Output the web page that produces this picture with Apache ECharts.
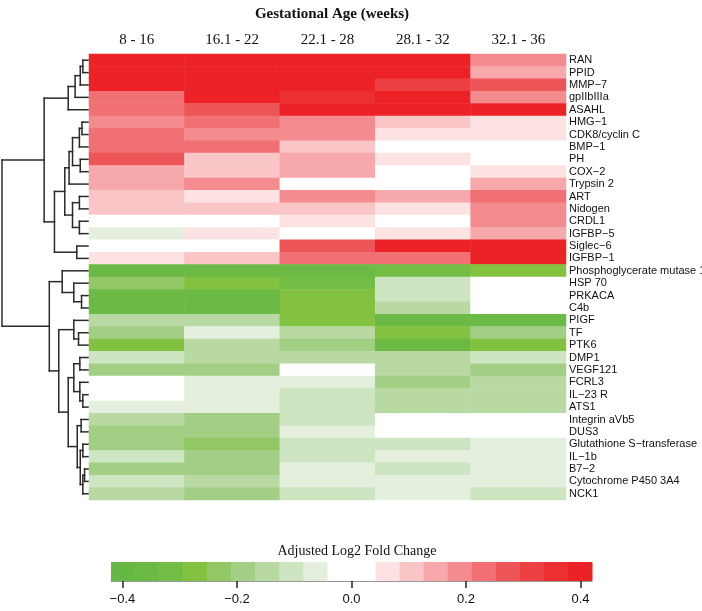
<!DOCTYPE html>
<html>
<head>
<meta charset="utf-8">
<title>Gestational Age heatmap</title>
<script src="https://cdn.jsdelivr.net/npm/echarts@6/dist/echarts.min.js"></script>
<style>
  html, body { margin: 0; padding: 0; background: #fff; }
  #chart { width: 702px; height: 611px; }
</style>
</head>
<body>
<div id="chart"></div>
<script>
const ageGroups = ['8 - 16', '16.1 - 22', '22.1 - 28', '28.1 - 32', '32.1 - 36']
const genes = [
  'RAN', 'PPID', 'MMP−7', 'gpIIbIIIa', 'ASAHL', 'HMG−1', 'CDK8/cyclin C', 'BMP−1', 'PH', 'COX−2',
  'Trypsin 2', 'ART', 'Nidogen', 'CRDL1', 'IGFBP−5', 'Siglec−6', 'IGFBP−1', 'Phosphoglycerate mutase 1',
  'HSP 70', 'PRKACA', 'C4b', 'PIGF', 'TF', 'PTK6', 'DMP1', 'VEGF121', 'FCRL3', 'IL−23 R', 'ATS1',
  'Integrin aVb5', 'DUS3', 'Glutathione S−transferase', 'IL−1b', 'B7−2', 'Cytochrome P450 3A4', 'NCK1'
]
// adjusted log2 fold change, one row per gene, one value per age group
const foldChange = [
  [0.40, 0.40, 0.40, 0.40, 0.19],
  [0.40, 0.40, 0.40, 0.40, 0.15],
  [0.40, 0.40, 0.40, 0.31, 0.27],
  [0.23, 0.40, 0.36, 0.40, 0.19],
  [0.23, 0.27, 0.40, 0.40, 0.40],
  [0.19, 0.23, 0.19, 0.10, 0.06],
  [0.23, 0.19, 0.19, 0.06, 0.06],
  [0.23, 0.23, 0.10, 0, 0],
  [0.27, 0.10, 0.15, 0.06, 0],
  [0.15, 0.10, 0.15, 0, 0.06],
  [0.15, 0.19, 0, 0, 0.15],
  [0.10, 0.06, 0.19, 0.15, 0.23],
  [0.10, 0.10, 0.10, 0.06, 0.19],
  [0, 0, 0.06, 0, 0.19],
  [-0.06, 0.06, 0, 0.06, 0.15],
  [0, 0, 0.27, 0.40, 0.40],
  [0.06, 0.10, 0.23, 0.23, 0.40],
  [-0.36, -0.36, -0.36, -0.31, -0.27],
  [-0.23, -0.27, -0.31, -0.10, 0],
  [-0.36, -0.36, -0.27, -0.10, 0],
  [-0.36, -0.36, -0.27, -0.15, 0],
  [-0.15, -0.15, -0.27, -0.36, -0.36],
  [-0.19, -0.06, -0.15, -0.27, -0.19],
  [-0.27, -0.15, -0.19, -0.36, -0.27],
  [-0.10, -0.15, -0.15, -0.15, -0.10],
  [-0.19, -0.19, 0, -0.15, -0.19],
  [0, -0.06, -0.06, -0.19, -0.15],
  [0, -0.06, -0.10, -0.15, -0.15],
  [-0.06, -0.06, -0.10, -0.15, -0.15],
  [-0.15, -0.19, -0.10, 0, 0],
  [-0.19, -0.19, -0.06, 0, 0],
  [-0.19, -0.23, -0.10, -0.10, -0.06],
  [-0.10, -0.19, -0.10, -0.06, -0.06],
  [-0.19, -0.19, -0.06, -0.10, -0.06],
  [-0.10, -0.15, -0.06, -0.06, -0.06],
  [-0.15, -0.19, -0.10, -0.06, -0.10]
]
const breaks = [-0.42, -0.378, -0.336, -0.294, -0.252, -0.21, -0.168, -0.126, -0.084, -0.042, 0,
  0.042, 0.084, 0.126, 0.168, 0.21, 0.252, 0.294, 0.336, 0.378, 0.42]
const palette = ['#66b844', '#6bba45', '#72bd43', '#83c241', '#91c764', '#a3cf85', '#b8daa2', '#cde5c0',
  '#e4f0dd', '#ffffff', '#ffffff', '#fde2e3', '#f9c5c7', '#f6a8ab', '#f38b8f', '#f07074', '#ee5559',
  '#ed4043', '#ec2f31', '#ec2227']
const scaleTicks = [-0.4, -0.2, 0, 0.2, 0.4]

// row dendrogram: leaf = gene index, node = [left, right, height]
const clusterA = [[[[0, 1, 0.06], 2, 0.09], 3, 0.15], 4, 0.23]
const clusterB = [[[[[[5, 6, 0.07], 7, 0.1], [8, 9, 0.09], 0.18], 10, 0.22],
  [[11, 12, 0.1], [13, 14, 0.1], 0.18], 0.27], [15, 16, 0.13], 0.39]
const clusterC = [17, [18, [19, 20, 0.075], 0.165], 0.3]
const clusterD = [[21, [22, 23, 0.11], 0.165],
  [[[24, 25, 0.095], [26, [27, 28, 0.06], 0.095], 0.165],
    [[29, 30, 0.08], [[31, 32, 0.06], [[33, 34, 0.04], 35, 0.06], 0.09], 0.125], 0.23], 0.34]
const rowTree = [[clusterA, clusterB, 0.51], [clusterC, clusterD, 0.45], 1.0]

const heatData = []
foldChange.forEach((row, r) => row.forEach((v, c) => heatData.push([c, r, v])))

const segments = []
const walk = node => {
  if (!Array.isArray(node)) return { y: node, h: 0 }
  const a = walk(node[0])
  const b = walk(node[1])
  const h = node[2]
  segments.push([h, a.y, h, b.y])
  segments.push([a.h, a.y, h, a.y])
  segments.push([b.h, b.y, h, b.y])
  return { y: (a.y + b.y) / 2, h }
}
walk(rowTree)

const pieces = palette.map((color, k) => ({ gte: breaks[k], lt: breaks[k + 1], color }))
const scaleBins = palette.map((color, k) => [breaks[k], breaks[k + 1], k])

const chart = echarts.init(document.getElementById('chart'))
const option = {
  animation: false,
  title: [
    {
      text: 'Gestational Age (weeks)', left: 327, top: 2, textAlign: 'center',
      textStyle: { fontFamily: 'Liberation Serif', fontSize: 15, fontWeight: 'bold', color: '#111' }
    },
    {
      text: 'Adjusted Log2 Fold Change', left: 352, top: 539, textAlign: 'center',
      textStyle: { fontFamily: 'Liberation Serif', fontSize: 14, fontWeight: 'normal', color: '#111' }
    }
  ],
  grid: [
    { left: 89, top: 54, width: 477, height: 446, outerBoundsMode: 'none' },
    { left: 2, top: 54, width: 86, height: 446, outerBoundsMode: 'none' },
    { left: 111, top: 562, width: 481, height: 19, outerBoundsMode: 'none' }
  ],
  xAxis: [
    {
      type: 'category', gridIndex: 0, data: ageGroups, position: 'top',
      axisLine: { show: false }, axisTick: { show: false },
      axisLabel: { fontFamily: 'Liberation Serif', fontSize: 15, color: '#111', margin: 6 }
    },
    { type: 'value', gridIndex: 1, min: 0, max: 1, inverse: true, show: false },
    {
      type: 'value', gridIndex: 2, min: -0.42, max: 0.42,
      splitLine: { show: false },
      axisLine: { show: true, lineStyle: { color: '#999', width: 1 } },
      axisTick: { show: true, customValues: scaleTicks, length: 7, lineStyle: { color: '#222', width: 1.5 } },
      axisLabel: {
        customValues: scaleTicks, margin: 12, fontFamily: 'Liberation Sans', fontSize: 13, color: '#111',
        formatter: v => v.toFixed(1).replace('-', '−')
      }
    }
  ],
  yAxis: [
    {
      type: 'category', gridIndex: 0, data: genes, inverse: true, position: 'right',
      axisLine: { show: false }, axisTick: { show: false },
      axisLabel: { interval: 0, fontFamily: 'Liberation Sans', fontSize: 11, color: '#111', margin: 3 }
    },
    { type: 'value', gridIndex: 1, min: -0.5, max: 35.5, inverse: true, show: false },
    { type: 'value', gridIndex: 2, min: 0, max: 1, show: false }
  ],
  visualMap: {
    type: 'piecewise', show: false, seriesIndex: 0, dimension: 2, pieces
  },
  series: [
    {
      type: 'heatmap', xAxisIndex: 0, yAxisIndex: 0, data: heatData,
      itemStyle: { borderWidth: 0 }, emphasis: { disabled: true }
    },
    {
      type: 'custom', xAxisIndex: 1, yAxisIndex: 1, data: segments, silent: true,
      encode: { x: [0, 2], y: [1, 3] },
      renderItem: (params, api) => {
        const p1 = api.coord([api.value(0), api.value(1)])
        const p2 = api.coord([api.value(2), api.value(3)])
        return {
          type: 'line',
          shape: { x1: p1[0], y1: p1[1], x2: p2[0], y2: p2[1] },
          style: { stroke: '#2a2a2a', lineWidth: 1.5, lineCap: 'square' }
        }
      }
    },
    {
      type: 'custom', xAxisIndex: 2, yAxisIndex: 2, data: scaleBins, silent: true,
      encode: { x: [0, 1] },
      renderItem: (params, api) => {
        const p1 = api.coord([api.value(0), 1])
        const p2 = api.coord([api.value(1), 0])
        return {
          type: 'rect',
          shape: { x: p1[0], y: p1[1], width: p2[0] - p1[0] + 0.5, height: p2[1] - p1[1] },
          style: { fill: palette[api.value(2)] }
        }
      }
    }
  ]
}
chart.setOption(option)
</script>
</body>
</html>
